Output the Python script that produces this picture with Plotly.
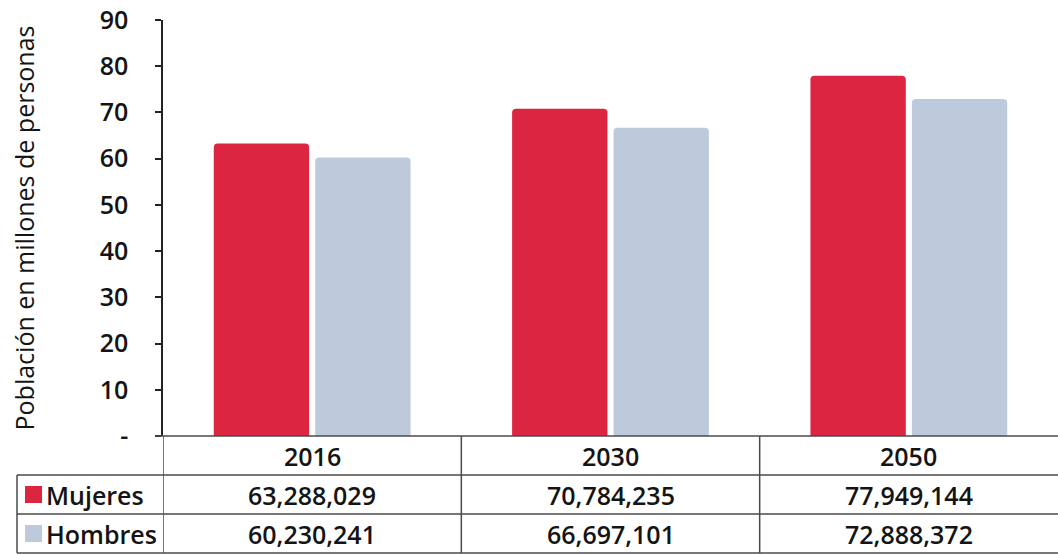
import plotly.graph_objects as go

# Population by sex (millions of people) for each projection year
years = ["2016", "2030", "2050"]
mujeres = [63288029, 70784235, 77949144]
hombres = [60230241, 66697101, 72888372]
series_names = ["Mujeres", "Hombres"]
y_ticks = [0, 10, 20, 30, 40, 50, 60, 70, 80, 90]
y_ticktext = ["-", "10", "20", "30", "40", "50", "60", "70", "80", "90"]

RED = "#DC2541"
BLUE = "#BDCADB"
LINE = "#4a4a4a"
FONT = "Open Sans"
TXT = "#141414"

fig = go.Figure()
for name, vals, col in [(series_names[0], mujeres, RED), (series_names[1], hombres, BLUE)]:
    fig.add_trace(go.Bar(
        x=years, y=[v / 1e6 for v in vals], name=name,
        marker=dict(color=col, line=dict(width=0), cornerradius=4),
        showlegend=False,
    ))

W, H = 1058, 554
L, R, T, B = 163, 0, 20, 118
pw, ph = W - L - R, H - T - B


def px_x(x):
    return (x - L) / pw


def px_y(y):
    return (H - B - y) / ph


row_y = [436, 475, 514, 553]
shapes = []
# horizontal rules of the data table
shapes.append(dict(type="line", xref="paper", yref="paper", x0=px_x(155), x1=1, y0=px_y(row_y[0]), y1=px_y(row_y[0]), line=dict(color=LINE, width=1.5)))
for yy in row_y[1:]:
    shapes.append(dict(type="line", xref="paper", yref="paper", x0=px_x(17), x1=1, y0=px_y(yy), y1=px_y(yy), line=dict(color=LINE, width=1.5)))
# vertical rules between year columns
for xb in [-0.5, 0.5, 1.5]:
    shapes.append(dict(type="line", xref="x", yref="paper", x0=xb, x1=xb, y0=px_y(row_y[0]), y1=px_y(row_y[3]), line=dict(color=LINE, width=1.5)))
shapes.append(dict(type="line", xref="paper", yref="paper", x0=px_x(17), x1=px_x(17), y0=px_y(row_y[1]), y1=px_y(row_y[3]), line=dict(color=LINE, width=1.5)))
# legend keys in the row headers
for i, col in enumerate([RED, BLUE]):
    yc = (row_y[i + 1] + row_y[i + 2]) / 2
    shapes.append(dict(type="rect", xref="paper", yref="paper", x0=px_x(25), x1=px_x(42), y0=px_y(yc + 8.5), y1=px_y(yc - 8.5), fillcolor=col, line=dict(width=0)))

annotations = []
tfont = dict(family=FONT, size=25, color=TXT, weight=600)
for i, yr in enumerate(years):
    annotations.append(dict(x=i, y=px_y((row_y[0] + row_y[1]) / 2), xref="x", yref="paper", text=yr, showarrow=False, font=tfont, xanchor="center", yanchor="middle"))
    for r, vals in enumerate([mujeres, hombres]):
        annotations.append(dict(x=i, y=px_y((row_y[r + 1] + row_y[r + 2]) / 2), xref="x", yref="paper", text=f"{vals[i]:,}", showarrow=False, font=tfont, xanchor="center", yanchor="middle"))
for r, name in enumerate(series_names):
    annotations.append(dict(x=px_x(44), y=px_y((row_y[r + 1] + row_y[r + 2]) / 2), xref="paper", yref="paper", text=name, showarrow=False, font=tfont, xanchor="left", yanchor="middle"))

fig.update_layout(
    width=W, height=H,
    margin=dict(l=L, r=R, t=T, b=B, pad=0),
    paper_bgcolor="white", plot_bgcolor="white",
    barmode="group", bargap=0.32, bargroupgap=0.06,
    font=dict(family=FONT, size=22, color=TXT),
    xaxis=dict(type="category", range=[-0.5, 2.5], showticklabels=False, showgrid=False, zeroline=False, showline=False, ticks=""),
    yaxis=dict(
        range=[0, 90], tickvals=y_ticks, ticktext=y_ticktext,
        showgrid=False, zeroline=False, showline=True, linecolor="#222", linewidth=1.5,
        ticks="outside", ticklen=6, tickcolor="#222", tickwidth=1.5,
        ticklabelstandoff=22,
        tickfont=dict(family=FONT, size=25, color=TXT, weight=600),
        title=dict(text="Población en millones de personas", font=dict(family=FONT, size=25, color=TXT), standoff=58),
    ),
    shapes=shapes, annotations=annotations,
)

fig.write_html("out.html")
